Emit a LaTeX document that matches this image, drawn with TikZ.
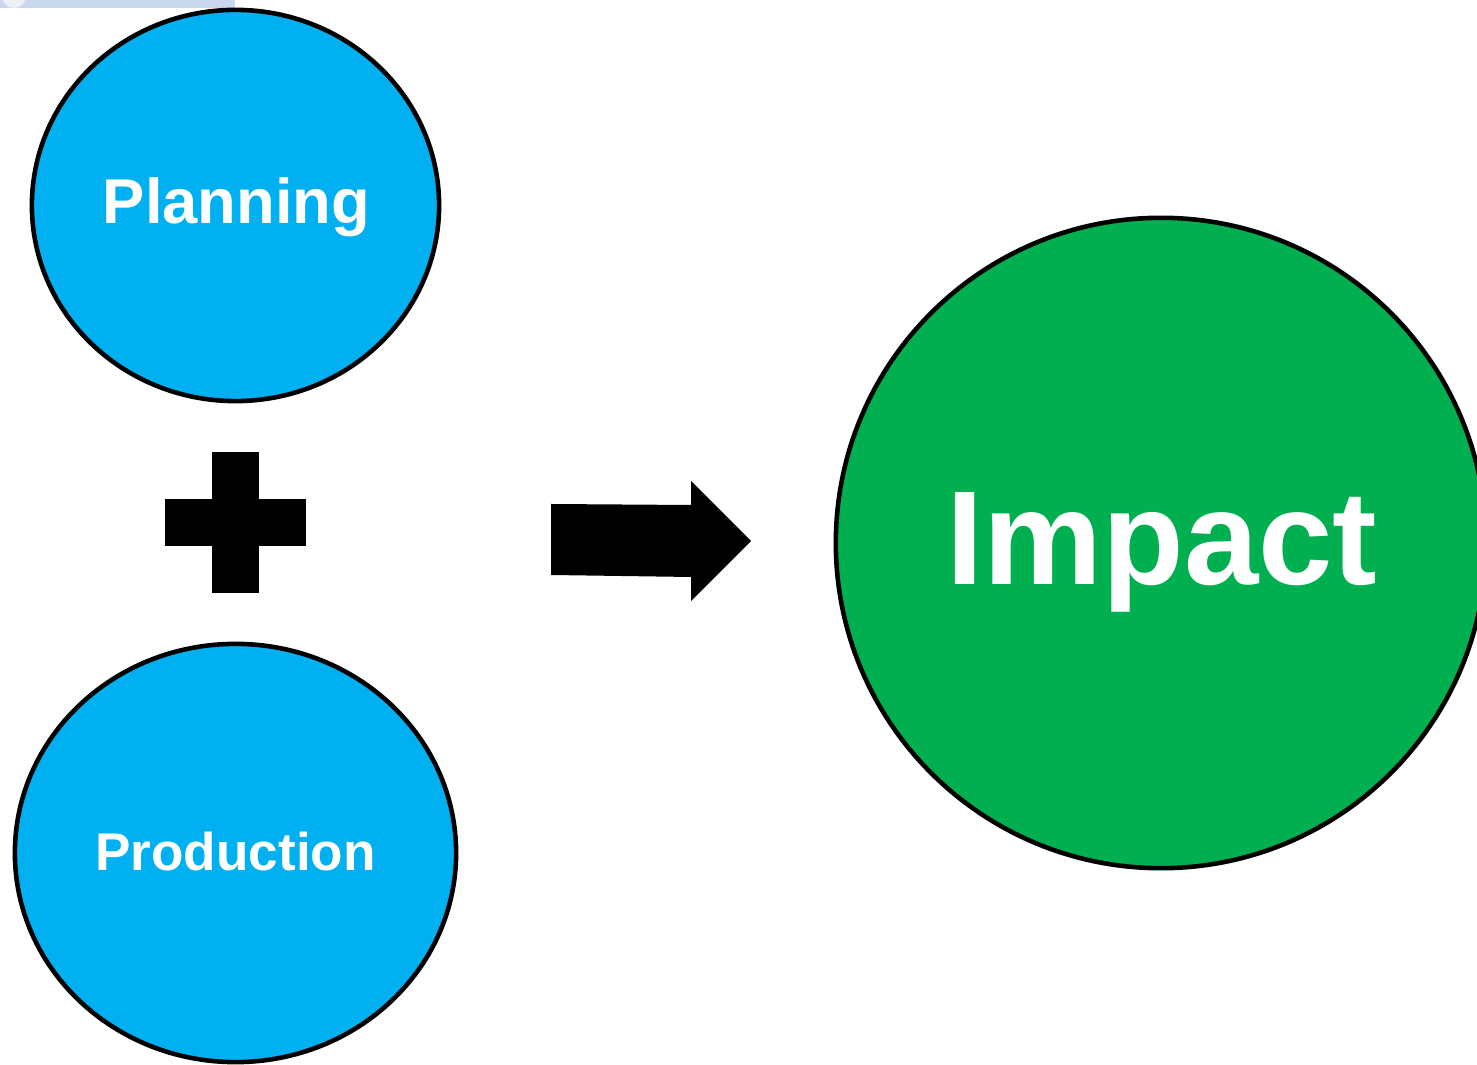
\documentclass[tikz,border=0pt]{standalone}
\usepackage{fontspec}
\setmainfont{Liberation Sans}
\usetikzlibrary{shapes.geometric}
\definecolor{oblue}{HTML}{00B0F0}
\definecolor{ogreen}{HTML}{00B050}
\definecolor{band}{HTML}{C9D8EF}
\definecolor{blob}{HTML}{EEF1F8}
\begin{document}
\begin{tikzpicture}[x=0.01cm,y=-0.01cm,
  bubble/.style={ellipse,draw=black,line width=1.3pt,inner sep=0pt,outer sep=0pt},
  lbl/.style={text=white,font=\bfseries,anchor=base,inner sep=0pt},
  blockshape/.style={fill=black,draw=none}]
\useasboundingbox (0,0) rectangle (1477,1065);
\clip (0,0) rectangle (1477,1065);
% faint strip at top-left
\fill[band] (0,0) rectangle (235,8);
\fill[blob] (14,-4) circle (12);
% bubbles
\node[bubble,fill=oblue,minimum width=4.07cm,minimum height=3.91cm] (plan) at (235.5,205.5) {};
\node[bubble,fill=oblue,minimum width=4.41cm,minimum height=4.18cm] (prod) at (235.5,853) {};
\node[bubble,fill=ogreen,minimum width=6.50cm,minimum height=6.50cm] (imp) at (1161,543) {};
% labels
\node[lbl,font=\bfseries\fontsize{18.0}{20}\selectfont] (planT) at (236.5,224) {Planning};
\node[lbl,font=\bfseries\fontsize{15.1}{18}\selectfont] (prodT) at (235.5,870) {Production};
\node[lbl,font=\bfseries\fontsize{38.0}{44}\selectfont] (impT) at (1162,585) {Impact};
% plus sign
\fill[blockshape] (212,452) rectangle (259,593);
\fill[blockshape] (165,499) rectangle (306,546);
% block arrow
\fill[blockshape] (551,504) -- (691,505) -- (691,481) -- (751,541) -- (691,601) -- (691,577) -- (551,575) -- cycle;
\end{tikzpicture}
\end{document}
